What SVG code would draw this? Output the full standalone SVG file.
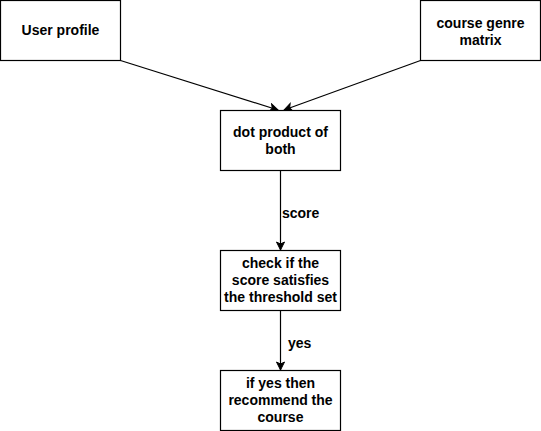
<svg xmlns="http://www.w3.org/2000/svg" width="541" height="431" viewBox="0 0 541 431">
  <style>
    .box { fill: #ffffff; stroke: #000000; stroke-width: 1.2; }
    .lbl { font-family: "Liberation Sans", Arial, Helvetica, sans-serif; font-size: 14px; font-weight: bold; fill: #000000; text-anchor: middle; }
    .elbl { font-family: "Liberation Sans", Arial, Helvetica, sans-serif; font-size: 14px; font-weight: bold; fill: #000000; text-anchor: start; }
    .edge { fill: none; stroke: #000000; stroke-width: 1.2; marker-end: url(#arrow); }
  </style>
  <defs>
    <marker id="arrow" markerWidth="10" markerHeight="10" refX="9" refY="5" orient="auto" markerUnits="userSpaceOnUse">
      <path d="M1,1 L9,5 L1,9 L3,5 Z" fill="#000000" stroke="#000000" stroke-width="1"/>
    </marker>
  </defs>
  <rect width="541" height="431" fill="#ffffff"/>

  <g id="connectors">
    <path class="edge" d="M120.5,60.5 L278,110"/>
    <path class="edge" d="M420.5,60.5 L284,110"/>
    <path class="edge" d="M280.5,170.5 L280.5,250"/>
    <path class="edge" d="M280.5,310.5 L280.5,370"/>
    <text class="elbl" x="282" y="218">score</text>
    <text class="elbl" x="288" y="348">yes</text>
  </g>

  <g id="user-profile">
    <rect class="box" x="0.5" y="0.5" width="120" height="60"/>
    <text class="lbl" x="60.5" y="35">User profile</text>
  </g>

  <g id="course-genre-matrix">
    <rect class="box" x="420.5" y="0.5" width="120" height="60"/>
    <text class="lbl" x="480.5" y="28">course genre</text>
    <text class="lbl" x="480.5" y="45">matrix</text>
  </g>

  <g id="dot-product">
    <rect class="box" x="220.5" y="110.5" width="120" height="60"/>
    <text class="lbl" x="280.5" y="137">dot product of</text>
    <text class="lbl" x="280.5" y="154">both</text>
  </g>

  <g id="check-threshold">
    <rect class="box" x="220.5" y="250.5" width="120" height="60"/>
    <text class="lbl" x="280.5" y="268">check if the</text>
    <text class="lbl" x="280.5" y="285">score satisfies</text>
    <text class="lbl" x="280.5" y="302">the threshold set</text>
  </g>

  <g id="recommend">
    <rect class="box" x="220.5" y="370.5" width="120" height="60"/>
    <text class="lbl" x="280.5" y="388">if yes then</text>
    <text class="lbl" x="280.5" y="405">recommend the</text>
    <text class="lbl" x="280.5" y="422">course</text>
  </g>
</svg>
